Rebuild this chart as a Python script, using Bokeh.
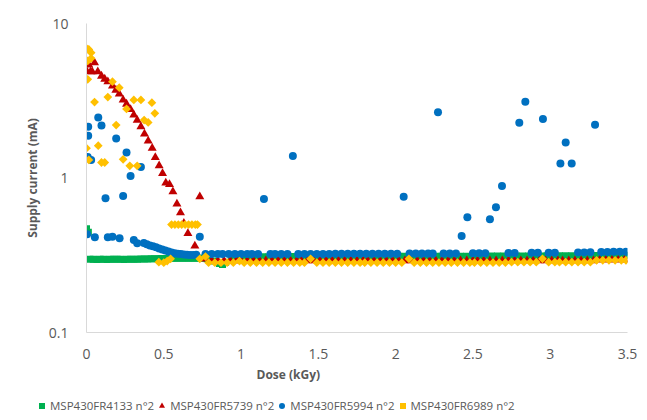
import math
from bokeh.plotting import figure
from bokeh.layouts import column
from bokeh.models import Range1d, FixedTicker, Legend, LegendItem, Title
from bokeh.embed import file_html
from bokeh.resources import INLINE

# ---------------- data (dose kGy, supply current mA) ----------------
series_names = ["MSP430FR4133 n°2", "MSP430FR5739 n°2", "MSP430FR5994 n°2", "MSP430FR6989 n°2"]

green_pts = [
    (0.000, 0.470), (0.012, 0.445),
    (0.022, 0.298), (0.044, 0.298), (0.066, 0.297), (0.088, 0.298), (0.110, 0.298), (0.132, 0.297),
    (0.154, 0.298), (0.176, 0.298), (0.198, 0.298), (0.220, 0.298), (0.242, 0.297), (0.264, 0.298),
    (0.286, 0.298), (0.308, 0.298), (0.330, 0.298), (0.352, 0.299), (0.374, 0.299), (0.396, 0.299),
    (0.418, 0.300), (0.440, 0.300), (0.462, 0.300), (0.484, 0.301), (0.506, 0.301), (0.528, 0.301),
    (0.550, 0.302), (0.572, 0.302), (0.594, 0.302), (0.616, 0.302), (0.638, 0.302), (0.660, 0.302),
    (0.682, 0.302), (0.704, 0.302), (0.726, 0.302), (0.748, 0.302),
    (0.780, 0.300), (0.820, 0.290), (0.860, 0.280), (0.880, 0.275), (0.900, 0.285), (0.940, 0.300),
    (0.980, 0.305),
    (1.02, 0.308), (1.06, 0.308), (1.10, 0.309), (1.14, 0.309), (1.18, 0.309), (1.22, 0.309),
    (1.26, 0.309), (1.30, 0.310), (1.34, 0.310), (1.38, 0.310), (1.42, 0.310), (1.46, 0.310),
    (1.50, 0.310), (1.54, 0.310), (1.58, 0.310), (1.62, 0.310), (1.66, 0.310), (1.70, 0.310),
    (1.74, 0.310), (1.78, 0.310), (1.82, 0.310), (1.86, 0.310), (1.90, 0.310), (1.94, 0.310),
    (1.98, 0.310), (2.02, 0.311), (2.06, 0.311), (2.10, 0.311), (2.14, 0.311), (2.18, 0.311),
    (2.22, 0.311), (2.26, 0.312), (2.30, 0.312), (2.34, 0.312), (2.38, 0.312), (2.42, 0.312),
    (2.46, 0.312), (2.50, 0.313), (2.54, 0.313), (2.58, 0.313), (2.62, 0.313), (2.66, 0.313),
    (2.70, 0.313), (2.74, 0.313), (2.78, 0.313), (2.82, 0.313), (2.86, 0.313), (2.90, 0.313),
    (2.94, 0.313), (2.98, 0.314), (3.02, 0.314), (3.06, 0.314), (3.10, 0.314), (3.14, 0.314),
    (3.18, 0.314), (3.22, 0.315), (3.26, 0.315), (3.30, 0.315), (3.34, 0.315), (3.38, 0.315),
    (3.42, 0.315), (3.46, 0.316), (3.49, 0.316),
]

red_pts = [
    (0.000, 4.95), (0.000, 5.66), (0.015, 5.39), (0.026, 4.88), (0.037, 4.88), (0.052, 5.57),
    (0.073, 4.88), (0.097, 4.57), (0.118, 4.37), (0.138, 4.20), (0.168, 3.94), (0.190, 3.71),
    (0.212, 3.50), (0.237, 3.20), (0.259, 3.01), (0.285, 2.78), (0.306, 2.56), (0.328, 2.37),
    (0.352, 2.15), (0.375, 1.93), (0.399, 1.74), (0.425, 1.56), (0.445, 1.36), (0.470, 1.20),
    (0.492, 1.07), (0.513, 0.93), (0.537, 0.91), (0.559, 0.815), (0.585, 0.679), (0.608, 0.596),
    (0.630, 0.509), (0.656, 0.438), (0.701, 0.363), (0.733, 0.757), (0.770, 0.300),
    (0.81, 0.292), (0.85, 0.292), (0.89, 0.292), (0.93, 0.292), (0.97, 0.292), (1.00, 0.292),
    (1.04, 0.292), (1.08, 0.292), (1.12, 0.292), (1.16, 0.292), (1.20, 0.292), (1.24, 0.292),
    (1.28, 0.292), (1.32, 0.292), (1.36, 0.292), (1.39, 0.292), (1.43, 0.292), (1.47, 0.292),
    (1.51, 0.292), (1.55, 0.292), (1.59, 0.292), (1.63, 0.292), (1.67, 0.292), (1.71, 0.292),
    (1.75, 0.292), (1.79, 0.292), (1.82, 0.292), (1.86, 0.292), (1.90, 0.292), (1.94, 0.292),
    (1.98, 0.292), (2.02, 0.292), (2.06, 0.292), (2.10, 0.292), (2.14, 0.292), (2.18, 0.292),
    (2.22, 0.292), (2.26, 0.292), (2.30, 0.292), (2.34, 0.292), (2.38, 0.292), (2.42, 0.292),
    (2.46, 0.292), (2.50, 0.292), (2.53, 0.292), (2.57, 0.292), (2.61, 0.292), (2.65, 0.292),
    (2.69, 0.292), (2.73, 0.292), (2.77, 0.292), (2.81, 0.292), (2.85, 0.292), (2.89, 0.292),
    (2.93, 0.292), (2.97, 0.292), (3.01, 0.292), (3.05, 0.292), (3.08, 0.292), (3.12, 0.292),
    (3.16, 0.292), (3.20, 0.292), (3.24, 0.292), (3.28, 0.292), (3.32, 0.295), (3.36, 0.295),
    (3.40, 0.295), (3.44, 0.295), (3.48, 0.295),
]

blue_pts = [
    (0.004, 0.432), (0.008, 1.37), (0.011, 2.15), (0.011, 1.88), (0.030, 1.31), (0.054, 0.413),
    (0.076, 2.46), (0.097, 2.19), (0.123, 0.740), (0.138, 0.413), (0.168, 0.417), (0.192, 1.80),
    (0.214, 0.407), (0.237, 0.765), (0.259, 1.46), (0.285, 1.03), (0.306, 0.397), (0.328, 0.378),
    (0.352, 1.18), (0.371, 0.380), (0.390, 0.372), (0.410, 0.366), (0.430, 0.361), (0.450, 0.356),
    (0.470, 0.350), (0.490, 0.345), (0.510, 0.339), (0.530, 0.334), (0.550, 0.329), (0.570, 0.326),
    (0.590, 0.323), (0.610, 0.322), (0.630, 0.320), (0.650, 0.319), (0.670, 0.318), (0.690, 0.318),
    (0.710, 0.319), (0.733, 0.417),
    (0.77, 0.322), (0.81, 0.322), (0.85, 0.322), (0.88, 0.322), (0.92, 0.322), (0.96, 0.322),
    (1.00, 0.322), (1.04, 0.322), (1.07, 0.322), (1.11, 0.322), (1.148, 0.730), (1.19, 0.322),
    (1.22, 0.322), (1.26, 0.322), (1.30, 0.322), (1.335, 1.39), (1.37, 0.322), (1.41, 0.322),
    (1.45, 0.322), (1.49, 0.322), (1.53, 0.322), (1.57, 0.322), (1.61, 0.323), (1.65, 0.323),
    (1.69, 0.323), (1.73, 0.323), (1.77, 0.323), (1.81, 0.323), (1.85, 0.323), (1.89, 0.323),
    (1.93, 0.323), (1.97, 0.323), (2.01, 0.323), (2.052, 0.757), (2.09, 0.324), (2.13, 0.324),
    (2.17, 0.324), (2.21, 0.324), (2.24, 0.324), (2.274, 2.66), (2.31, 0.324), (2.35, 0.324),
    (2.39, 0.325), (2.427, 0.421), (2.464, 0.557), (2.50, 0.326), (2.54, 0.326), (2.58, 0.326),
    (2.610, 0.541), (2.649, 0.646), (2.688, 0.888), (2.73, 0.327), (2.77, 0.327), (2.800, 2.28),
    (2.839, 3.12), (2.88, 0.328), (2.92, 0.328), (2.953, 2.41), (2.99, 0.328), (3.03, 0.328),
    (3.066, 1.24), (3.100, 1.70), (3.139, 1.24), (3.18, 0.330), (3.22, 0.330), (3.26, 0.331),
    (3.290, 2.21), (3.33, 0.332), (3.37, 0.332), (3.41, 0.333), (3.45, 0.333), (3.49, 0.333),
]

yellow_pts = [
    (0.000, 6.91), (0.015, 6.80), (0.030, 6.47), (0.008, 5.72), (0.030, 5.95), (0.008, 4.35),
    (0.052, 3.10), (0.138, 3.34), (0.168, 4.20), (0.212, 3.84), (0.259, 2.80), (0.306, 3.20),
    (0.352, 3.20), (0.423, 3.07), (0.442, 2.62), (0.373, 2.37), (0.399, 2.29), (0.192, 2.20),
    (0.000, 1.56), (0.076, 1.62), (0.015, 1.31), (0.097, 1.26), (0.118, 1.26), (0.237, 1.32),
    (0.280, 1.20), (0.328, 1.20),
    (0.468, 0.285), (0.500, 0.283), (0.522, 0.290), (0.544, 0.300),
    (0.550, 0.500), (0.572, 0.500), (0.594, 0.500), (0.616, 0.500), (0.638, 0.500), (0.660, 0.500),
    (0.682, 0.500), (0.704, 0.500), (0.718, 0.500),
    (0.733, 0.300), (0.770, 0.310),
    (0.79, 0.283), (0.83, 0.283), (0.87, 0.283), (0.91, 0.283), (0.95, 0.283), (0.99, 0.290),
    (1.02, 0.283), (1.06, 0.283), (1.10, 0.283), (1.14, 0.283), (1.18, 0.283), (1.22, 0.283),
    (1.26, 0.283), (1.30, 0.283), (1.34, 0.283), (1.38, 0.283), (1.41, 0.283), (1.45, 0.300),
    (1.49, 0.283), (1.53, 0.283), (1.57, 0.283), (1.61, 0.283), (1.65, 0.283), (1.69, 0.283),
    (1.73, 0.283), (1.77, 0.283), (1.80, 0.283), (1.84, 0.283), (1.88, 0.283), (1.92, 0.283),
    (1.96, 0.283), (2.00, 0.283), (2.04, 0.283), (2.086, 0.300), (2.12, 0.283), (2.16, 0.283),
    (2.20, 0.283), (2.24, 0.283), (2.28, 0.283), (2.32, 0.283), (2.36, 0.283), (2.40, 0.283),
    (2.44, 0.283), (2.48, 0.283), (2.51, 0.283), (2.55, 0.283), (2.59, 0.283), (2.63, 0.283),
    (2.67, 0.283), (2.71, 0.283), (2.75, 0.285), (2.79, 0.285), (2.83, 0.285), (2.87, 0.285),
    (2.91, 0.285), (2.95, 0.300), (2.99, 0.285), (3.03, 0.285), (3.06, 0.285), (3.10, 0.285),
    (3.14, 0.285), (3.18, 0.285), (3.22, 0.285), (3.26, 0.285), (3.30, 0.293), (3.34, 0.293),
    (3.38, 0.293), (3.42, 0.293), (3.46, 0.293), (3.49, 0.293),
]

x_ticks = [0, 0.5, 1, 1.5, 2, 2.5, 3, 3.5]
x_tick_labels = ["0", "0.5", "1", "1.5", "2", "2.5", "3", "3.5"]
y_ticks = [0.1, 1, 10]
y_tick_labels = ["0.1", "1", "10"]

# ---------------- figure ----------------
TEXT = "#595959"
FONT = "Open Sans"
COLORS = ["#00B050", "#C00000", "#0070C0", "#FFC000"]
MARKERS = ["square", "triangle", "circle", "square"]
SIZES = [7, 9, 8, 6.2]
ANGLES = [0, 0, 0, math.pi / 4]

p = figure(width=647, height=395, x_range=Range1d(0, 3.5), y_range=Range1d(0.1, 10),
           y_axis_type="log", output_backend="svg", toolbar_location=None,
           min_border_left=86, min_border_right=20, min_border_top=23, min_border_bottom=63)
p.outline_line_color = None
p.grid.visible = False

def unzip(pts):
    return [a for a, b in pts], [b for a, b in pts]

all_pts = [green_pts, red_pts, blue_pts, yellow_pts]
for pts, c, m, s, a in zip(all_pts, COLORS, MARKERS, SIZES, ANGLES):
    xs, ys = unzip(pts)
    p.scatter(xs, ys, marker=m, size=s, angle=a, color=c, line_color=None)

p.xaxis.ticker = FixedTicker(ticks=x_ticks)
p.xaxis.major_label_overrides = {t: l for t, l in zip(x_ticks, x_tick_labels)}
p.yaxis.ticker = FixedTicker(ticks=y_ticks)
p.yaxis.major_label_overrides = {t: l for t, l in zip(y_ticks, y_tick_labels)}

for ax in (p.xaxis[0], p.yaxis[0]):
    ax.axis_line_color = "#d9d9d9"
    ax.axis_line_width = 1
    ax.major_tick_line_color = None
    ax.minor_tick_line_color = None
    ax.major_label_text_font = FONT
    ax.major_label_text_font_size = "14px"
    ax.major_label_text_color = TEXT

p.xaxis.major_label_standoff = 10
p.yaxis.major_label_standoff = 12
p.yaxis.axis_label = "Supply current (mA)"
p.yaxis.axis_label_text_font = FONT
p.yaxis.axis_label_text_font_style = "bold"
p.yaxis.axis_label_text_font_size = "12px"
p.yaxis.axis_label_text_color = TEXT
p.yaxis.axis_label_standoff = 5

xtitle = Title(text="Dose (kGy)", align="left", offset=170, standoff=4,
               text_font=FONT, text_font_style="bold", text_font_size="12px", text_color=TEXT)
p.add_layout(xtitle, "below")

# legend strip below the chart
lg = figure(width=647, height=25, x_range=Range1d(0, 1), y_range=Range1d(0, 1),
            output_backend="svg", toolbar_location=None, x_axis_location=None, y_axis_location=None,
            min_border_left=0, min_border_right=0, min_border_top=0, min_border_bottom=0)
lg.outline_line_color = None
lg.grid.visible = False
legend_x = -48
if "frame_align" in lg.properties():
    lg.frame_align = False
    p.frame_align = False
    legend_x = 34
items = []
for n, c, m, a in zip(series_names, COLORS, MARKERS, ANGLES):
    # placeholder renderer outside the visible range, only used for the legend swatch
    r = lg.scatter([-5], [-5], marker=m, size=6, angle=a, color=c, line_color=None)
    items.append(LegendItem(label=n, renderers=[r]))

legend = Legend(items=items, location=(legend_x, 7), orientation="horizontal", border_line_color=None,
                background_fill_alpha=0, padding=0, margin=0, spacing=0,
                glyph_width=15, glyph_height=15, label_height=15, label_standoff=1,
                label_text_font=FONT, label_text_font_size="11.5px", label_text_color=TEXT)
lg.add_layout(legend)

page = column(p, lg, spacing=0)
open("out.html", "w").write(file_html(page, INLINE))
